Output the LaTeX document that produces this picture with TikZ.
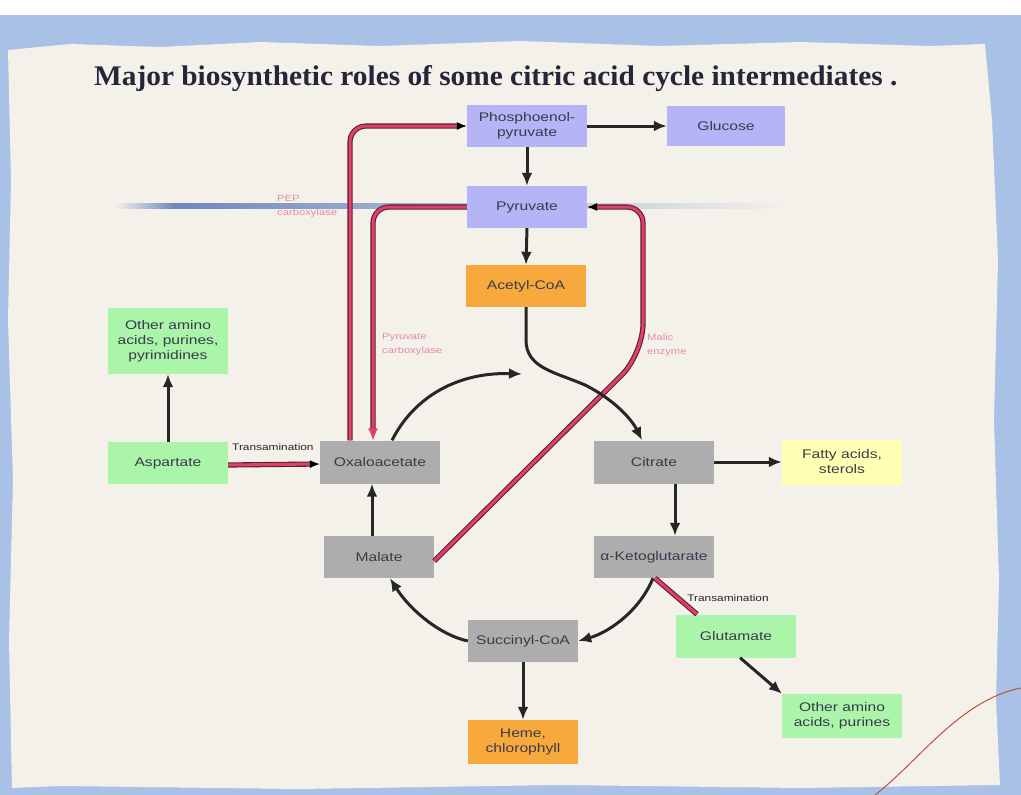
\documentclass[tikz,border=0pt]{standalone}
\usepackage{fontspec}
\setmainfont{Liberation Serif}
\newfontfamily\boxfont[FakeStretch=1.25]{Liberation Sans}
\usetikzlibrary{arrows.meta}
\definecolor{paper}{HTML}{F3F1EA}
\definecolor{bluebg}{HTML}{A9C1E6}
\definecolor{lav}{HTML}{B4B4F7}
\definecolor{org}{HTML}{F8A93E}
\definecolor{grn}{HTML}{AAF5AA}
\definecolor{gry}{HTML}{ADADAD}
\definecolor{yel}{HTML}{FFFFB4}
\definecolor{txt}{HTML}{3A3A4A}
\definecolor{redc}{HTML}{E0406A}
\definecolor{reddark}{HTML}{5A1E30}
\definecolor{pinklab}{HTML}{E88AA8}
\definecolor{streak}{HTML}{7088C0}
\definecolor{titlec}{HTML}{26263A}
\definecolor{wire}{HTML}{C0503A}
\tikzset{
  box/.style={rectangle, inner sep=0pt, text=txt, align=center,
    font=\boxfont\fontsize{12.5}{15}\selectfont,
    minimum width=120pt, minimum height=42pt},
  arr/.style={-{Latex[length=13pt,width=11pt]}, line width=3pt, draw=black!85},
  redp/.style={draw=reddark, double=redc, double distance=3pt, line width=1.1pt, rounded corners=16pt},
  pinktxt/.style={text=pinklab, align=left, inner sep=0pt, anchor=north west,
    font=\boxfont\fontsize{9}{14}\selectfont},
  smalltxt/.style={text=black!85, inner sep=0pt, font=\boxfont\fontsize{9.5}{11}\selectfont}
}
\begin{document}
\begin{tikzpicture}[x=1pt,y=-1pt]
\useasboundingbox (0,0) rectangle (1021,795);
% background
\fill[white] (0,0) rectangle (1021,795);
\fill[bluebg] (0,15) rectangle (1021,795);
\fill[paper] (8,50) -- (70,44) -- (160,47) -- (260,42) -- (380,46) -- (520,41) -- (660,46) -- (800,42) -- (930,46) -- (985,44)
  -- (992,120) -- (998,260) -- (994,420) -- (999,580) -- (996,700) -- (1000,785)
  -- (800,788) -- (560,785) -- (300,789) -- (60,786) -- (12,788)
  -- (9,640) -- (13,480) -- (8,320) -- (11,180) -- cycle;
% streak
\shade[left color=paper, right color=streak] (115,203) rectangle (175,208);
\shade[left color=streak, right color=paper] (175,203) rectangle (790,208);
% wire
\draw[wire, line width=1pt] (875,795) .. controls (920,760) and (960,700) .. (1021,688);
% title
\node[anchor=base west, inner sep=0pt, text=titlec] (title) at (94,85)
  {\resizebox{803pt}{20pt}{\bfseries Major biosynthetic roles of some citric acid cycle intermediates .}};
% nodes
\node[box, fill=lav] (pep) at (527,126) {Phosphoenol-\\pyruvate};
\node[box, fill=lav, minimum width=118pt, minimum height=40pt] (glc) at (726,126) {Glucose};
\node[box, fill=lav] (pyr) at (527,207) {Pyruvate};
\node[box, fill=org] (acoa) at (526,286) {Acetyl-CoA};
\node[box, fill=grn, minimum height=66pt] (oth1) at (168,341) {Other amino\\acids, purines,\\pyrimidines};
\node[box, fill=grn] (asp) at (168,463) {Aspartate};
\node[box, fill=gry, minimum height=43pt] (oxa) at (380,462) {Oxaloacetate};
\node[box, fill=gry, minimum height=43pt] (cit) at (654,462) {Citrate};
\node[box, fill=yel, minimum height=45pt] (fat) at (842,462) {Fatty acids,\\sterols};
\node[box, fill=gry, minimum width=110pt] (mal) at (379,557) {Malate};
\node[box, fill=gry] (akg) at (654,557) {α-Ketoglutarate};
\node[box, fill=gry, minimum width=110pt] (suc) at (523,641) {Succinyl-CoA};
\node[box, fill=grn, minimum height=43pt] (glu) at (736,636) {Glutamate};
\node[box, fill=grn, minimum height=44pt] (oth2) at (842,716) {Other amino\\acids, purines};
\node[box, fill=org, minimum width=110pt, minimum height=44pt] (heme) at (523,742) {Heme,\\chlorophyll};
\coordinate (cyctop) at (522,374);
% red anaplerotic paths
\draw[redp, -{Latex[length=10pt,width=8pt,color=black]}] ([xshift=-30pt]oxa.north) -- (350,126) -- (pep.west);
\draw[redp, -{Latex[length=12pt,width=10pt,color=redc]}] (pyr.west) -- (373,207) -- ([xshift=-7pt]oxa.north);
\draw[redp, rounded corners=30pt] ([yshift=-4pt]mal.east) -- (643,354) -- (643,240);
\draw[redp, -{Latex[length=10pt,width=8pt,color=black]}] (643,240) -- (643,207) -- (pyr.east);
\draw[redp, -{Latex[length=10pt,width=8pt,color=black]}] ([yshift=-2pt]asp.east) -- ([yshift=-2pt]oxa.west);
\draw[redp, rounded corners=0pt] ([xshift=1pt]akg.south) -- ([xshift=-39pt]glu.north);
% black arrows
\draw[arr] (pep.east) -- (glc.west);
\draw[arr] (pep.south) -- (pyr.north);
\draw[arr] (pyr.south) -- (acoa.north);
\draw[arr] (acoa.south) -- (526,340) .. controls (526,368) and (555,372) .. (585,385) .. controls (615,400) and (632,420) .. ([xshift=-12pt]cit.north);
\draw[arr] ([xshift=12pt]oxa.north) .. controls (415,395) and (460,372) .. (cyctop);
\draw[arr] ([xshift=21pt]cit.south) -- ([xshift=21pt]akg.north);
\draw[arr] (cit.east) -- (fat.west);
\draw[arr] ([xshift=-1pt]akg.south) .. controls (640,610) and (610,632) .. (suc.east);
\draw[arr] (suc.west) .. controls (440,635) and (410,610) .. ([xshift=11pt]mal.south);
\draw[arr] ([xshift=-7pt]mal.north) -- ([xshift=-8pt]oxa.south);
\draw[arr] (suc.south) -- (heme.north);
\draw[arr] ([xshift=4pt]glu.south) -- ([xshift=-60pt]oth2.north);
\draw[arr] (asp.north) -- (oth1.south);
% labels
\node[pinktxt] (lpep) at (277,195) {PEP\\carboxylase};
\node[pinktxt] (lpc) at (382,333) {Pyruvate\\carboxylase};
\node[pinktxt] (lme) at (647,334) {Malic\\enzyme};
\node[smalltxt, anchor=west] (lt1) at (232,447) {Transamination};
\node[smalltxt] (lt2) at (728,598) {Transamination};
\end{tikzpicture}
\end{document}
